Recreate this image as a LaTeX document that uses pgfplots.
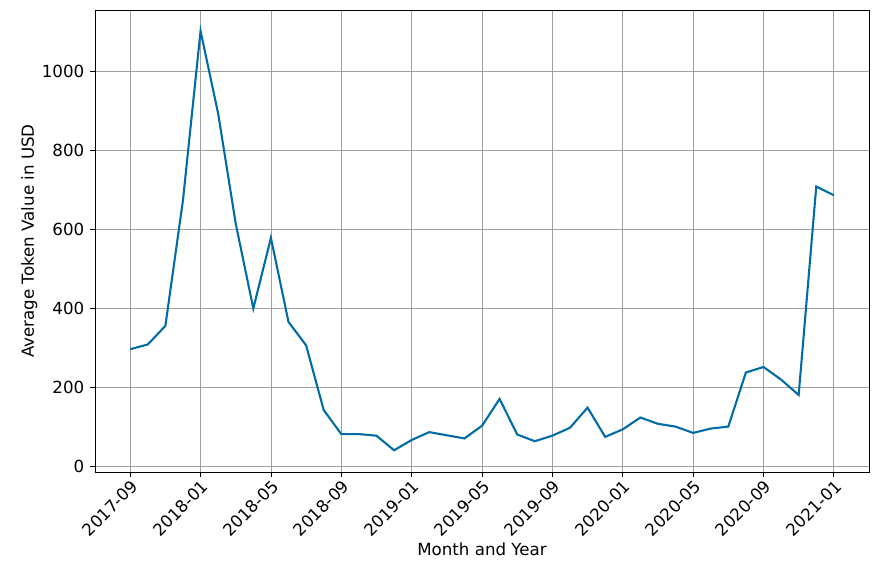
\documentclass[border=0pt]{standalone}
\usepackage{pgfplots}
\pgfplotsset{compat=1.18}
\usepackage{fontspec}
\setmainfont{DejaVu Sans}
\definecolor{lineblue}{RGB}{0,107,164}
\definecolor{gridgray}{RGB}{160,160,160}

\begin{document}
\fontsize{12}{14}\selectfont
\begin{tikzpicture}
  % 1 px of the reference = 0.72pt
  \useasboundingbox (0pt,0pt) rectangle (631.44pt,411.84pt);
  \begin{axis}[
    at={(68.4pt,72pt)}, anchor=south west,
    scale only axis,
    width=557.3pt, height=332.6pt,
    xmin=-2, xmax=42,
    ymin=-15, ymax=1155,
    xtick={0,4,8,12,16,20,24,28,32,36,40},
    xticklabels={2017-09,2018-01,2018-05,2018-09,2019-01,2019-05,2019-09,2020-01,2020-05,2020-09,2021-01},
    ytick={0,200,400,600,800,1000},
    yticklabel style={/pgf/number format/1000 sep={}},
    x tick label style={rotate=45, anchor=north east, inner sep=1pt},
    /pgf/number format/assume math mode=true,
    tick label style={font=\fontsize{12}{14}\selectfont},
    label style={font=\fontsize{12}{14}\selectfont},
    tick align=outside, tick pos=left,
    major tick length=3.5pt,
    every tick/.style={black, line width=0.6pt},
    grid=major,
    major grid style={gridgray, line width=0.6pt},
    axis line style={black, line width=0.6pt},
    xlabel={Month and Year},
    ylabel={Average Token Value in USD},
    xlabel style={yshift=2pt},
    ylabel style={yshift=-5pt},
  ]
    \addplot[lineblue, line width=1.5pt, mark=none] coordinates {
      (0,296) (1,308) (2,355) (3,673) (4,1102) (5,893) (6,614) (7,399)
      (8,578) (9,365) (10,306) (11,142) (12,81) (13,81) (14,77) (15,40)
      (16,66) (17,86) (18,78) (19,70) (20,102) (21,170) (22,80) (23,63)
      (24,77) (25,97) (26,148) (27,74) (28,93) (29,123) (30,107) (31,100)
      (32,84) (33,95) (34,100) (35,237) (36,251) (37,219) (38,180) (39,708)
      (40,686)
    };
  \end{axis}
\end{tikzpicture}
\end{document}
